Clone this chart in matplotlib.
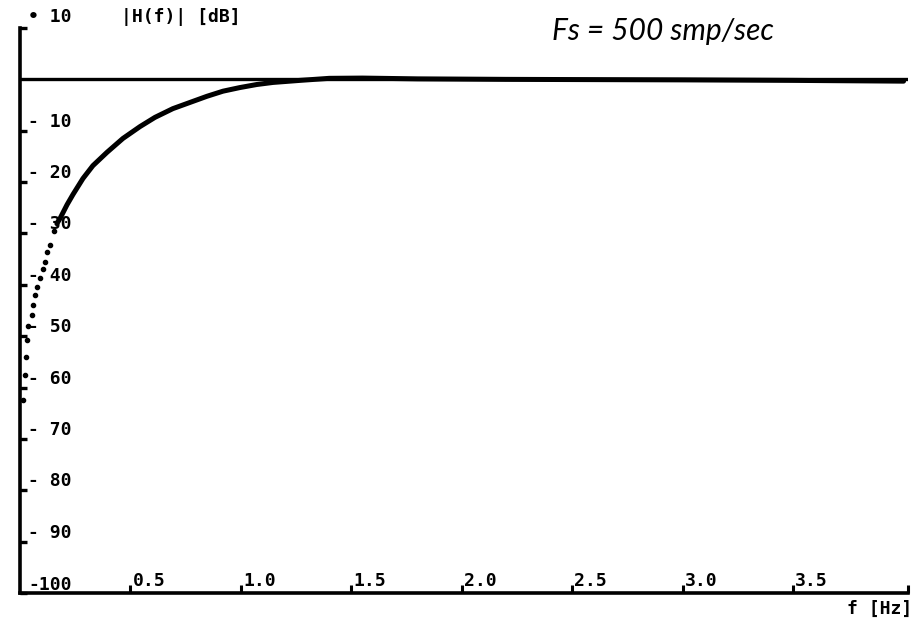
import matplotlib
matplotlib.use("Agg")
import matplotlib.pyplot as plt
import matplotlib.transforms as mtransforms

# ---- data ----
solid_f = [0.167, 0.181, 0.213, 0.240, 0.285, 0.330, 0.394, 0.466, 0.543, 0.611,
           0.692, 0.769, 0.846, 0.919, 0.995, 1.072, 1.145, 1.267, 1.40, 1.55,
           1.80, 2.20, 2.60, 3.00, 3.50, 4.00]
solid_db = [-28.1, -27.1, -24.4, -22.4, -19.3, -16.8, -14.2, -11.5, -9.2, -7.4,
            -5.7, -4.5, -3.3, -2.3, -1.6, -1.0, -0.6, -0.2, 0.2, 0.25,
            0.1, 0.0, -0.05, -0.1, -0.2, -0.35]
dot_f = [0.154, 0.136, 0.122, 0.113, 0.104, 0.090, 0.077, 0.068, 0.059, 0.054,
         0.036, 0.032, 0.027, 0.023, 0.014]
dot_db = [-29.6, -32.2, -33.7, -35.5, -37.0, -38.6, -40.4, -41.9, -43.9, -45.8,
          -48.1, -50.7, -54.0, -57.5, -62.4]
y_ticks = [10, -10, -20, -30, -40, -50, -60, -70, -80, -90, -100]
y_tick_labels = ["\u2022 10", "- 10", "- 20", "- 30", "- 40", "- 50", "- 60",
                 "- 70", "- 80", "- 90", "-100"]
x_ticks = [0.5, 1.0, 1.5, 2.0, 2.5, 3.0, 3.5]
x_tick_labels = ["0.5", "1.0", "1.5", "2.0", "2.5", "3.0", "3.5"]
x_max = 4.02

fig = plt.figure(figsize=(9.18, 6.23), dpi=100)
ax = fig.add_axes([20 / 918, 30 / 623, 888 / 918, 565 / 623])
ax.set_xlim(0, x_max)
ax.set_ylim(-100, 10)

for s in ["top", "right"]:
    ax.spines[s].set_visible(False)
for s in ["left", "bottom"]:
    ax.spines[s].set_linewidth(2.6)
    ax.spines[s].set_color("black")

ax.axhline(0, color="black", lw=2.4, zorder=2)
ax.plot(solid_f, solid_db, color="black", lw=3.6, solid_capstyle="round",
        solid_joinstyle="round", zorder=3)
ax.plot(dot_f, dot_db, linestyle="none", marker="o", ms=3.0, color="black", zorder=3)

ax.set_yticks(y_ticks)
ax.set_yticklabels([])
ax.tick_params(axis="y", direction="in", length=5, width=2.4)
ax.set_xticks(x_ticks + [x_max])
ax.set_xticklabels([])
ax.tick_params(axis="x", direction="in", length=6, width=2.2)

mono = dict(family="DejaVu Sans Mono", fontweight="bold", fontsize=13, color="black")
for v, lab in zip(y_ticks, y_tick_labels):
    if v == -100:
        t = mtransforms.offset_copy(ax.transData, fig=fig, x=8, y=8, units="dots")
    elif v == 10:
        t = mtransforms.offset_copy(ax.transData, fig=fig, x=8, y=11, units="dots")
    else:
        t = mtransforms.offset_copy(ax.transData, fig=fig, x=8, y=9, units="dots")
    ax.text(0, v, lab, transform=t, ha="left", va="center", clip_on=False, **mono)

off_x = mtransforms.offset_copy(ax.transData, fig=fig, x=2, y=3, units="dots")
for v, lab in zip(x_ticks, x_tick_labels):
    ax.text(v, -100, lab, transform=off_x, ha="left", va="bottom", **mono)

fig.text(121 / 918, 1 - 17 / 623, "|H(f)| [dB]", ha="left", va="center", **mono)
fig.text(912 / 918, 1 - 609 / 623, "f [Hz]", ha="right", va="center", **mono)
fig.text(552 / 918, 1 - 31 / 623, "Fs = 500 smp/sec", ha="left", va="center",
         family="Lato", style="italic", fontsize=21.5, color="black")

fig.savefig("out.png", dpi=100, facecolor="white")
